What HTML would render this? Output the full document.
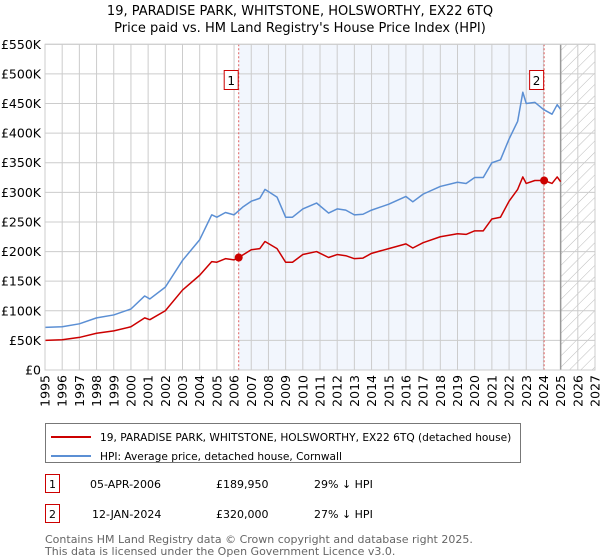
<!DOCTYPE html>
<html><head><meta charset="utf-8"><style>
body{margin:0;background:#fff;font-family:"DejaVu Sans","Liberation Sans",sans-serif;}
#wrap{position:relative;width:600px;height:560px;overflow:hidden;}
svg text{font-family:"DejaVu Sans","Liberation Sans",sans-serif;}
</style></head><body><div id="wrap">
<svg id="chart" width="600" height="560">
<text x="300" y="15" text-anchor="middle" font-size="13">19, PARADISE PARK, WHITSTONE, HOLSWORTHY, EX22 6TQ</text>
<text x="300" y="32" text-anchor="middle" font-size="13">Price paid vs. HM Land Registry's House Price Index (HPI)</text>
<g id="plot"></g>
<g>
<rect x="45.5" y="423.5" width="475" height="39" fill="#fff" stroke="#777"/>
<line x1="51" y1="437" x2="91" y2="437" stroke="#cc0000" stroke-width="2"/>
<text x="100" y="441" font-size="10.6">19, PARADISE PARK, WHITSTONE, HOLSWORTHY, EX22 6TQ (detached house)</text>
<line x1="51" y1="456" x2="91" y2="456" stroke="#5b8fd4" stroke-width="2"/>
<text x="100" y="460" font-size="10.6">HPI: Average price, detached house, Cornwall</text>
</g>
<g font-size="11">
<rect x="45.5" y="474.5" width="14" height="18" fill="#fff" stroke="#cc0000"/>
<text x="52.5" y="488" text-anchor="middle">1</text>
<text x="90" y="488">05-APR-2006</text>
<text x="216" y="488">£189,950</text>
<text x="314" y="488">29% ↓ HPI</text>
<rect x="45.5" y="504.5" width="14" height="18" fill="#fff" stroke="#cc0000"/>
<text x="52.5" y="518" text-anchor="middle">2</text>
<text x="92" y="518">12-JAN-2024</text>
<text x="216" y="518">£320,000</text>
<text x="314" y="518">27% ↓ HPI</text>
</g>
<text x="45" y="543" font-size="11" fill="#666">Contains HM Land Registry data © Crown copyright and database right 2025.</text>
<text x="45" y="555" font-size="11" fill="#666">This data is licensed under the Open Government Licence v3.0.</text>
</svg>
<script>
const hpiYears=[1995,1996,1997,1998,1999,2000,2000.8,2001.1,2002,2003,2004,2004.7,2005,2005.5,2006,2006.5,2007,2007.5,2007.8,2008.5,2009,2009.4,2010,2010.8,2011.5,2012,2012.5,2013,2013.5,2014,2015,2016,2016.4,2017,2018,2019,2019.5,2020,2020.5,2021,2021.5,2022,2022.5,2022.8,2023,2023.5,2024,2024.5,2024.8,2025];
const hpiValues=[72,73,78,88,93,103,125,120,140,185,220,262,258,266,262,275,285,290,305,292,258,258,272,282,265,272,270,262,263,270,280,293,284,297,310,317,315,325,325,350,355,390,420,469,450,452,440,432,448,440];
const ppYears=[1995,1996,1997,1998,1999,2000,2000.8,2001.1,2002,2003,2004,2004.7,2005,2005.5,2006,2006.27,2007,2007.5,2007.8,2008.5,2009,2009.4,2010,2010.8,2011.5,2012,2012.5,2013,2013.5,2014,2015,2016,2016.4,2017,2018,2019,2019.5,2020,2020.5,2021,2021.5,2022,2022.5,2022.8,2023,2023.5,2024.04,2024.5,2024.8,2025];
const ppValues=[50,51,55,62,66,73,88,85,100,135,160,183,182,188,186,190,203,205,217,205,182,182,195,200,190,195,193,188,189,197,205,213,206,215,225,230,229,235,235,255,258,285,305,326,315,320,320,315,326,318];
const saleYears=[2006.27,2024.04];
const saleValues=[189.95,320];
const saleLabels=["1","2"];
const yTicks=[0,50,100,150,200,250,300,350,400,450,500,550];
const yTickLabels=["£0","£50K","£100K","£150K","£200K","£250K","£300K","£350K","£400K","£450K","£500K","£550K"];
const xTicks=[1995,1996,1997,1998,1999,2000,2001,2002,2003,2004,2005,2006,2007,2008,2009,2010,2011,2012,2013,2014,2015,2016,2017,2018,2019,2020,2021,2022,2023,2024,2025,2026,2027];

const L=45,R=595,T=44.3,B=370;
const sx=y=>L+(y-1995)/(2027-1995)*(R-L);
const sy=v=>B-v/550*(B-T);
const NS="http://www.w3.org/2000/svg";
const g=document.getElementById('plot');
function mk(tag,attrs){const e=document.createElementNS(NS,tag);for(const k in attrs)e.setAttribute(k,attrs[k]);g.appendChild(e);return e;}
let e=mk('rect',{x:sx(saleYears[0]),y:T,width:sx(saleYears[1])-sx(saleYears[0]),height:B-T,fill:'#f2f6fd'});


const defs=document.createElementNS(NS,'defs');
defs.innerHTML='<pattern id="hatch" width="8" height="8" patternUnits="userSpaceOnUse" patternTransform="rotate(45)"><line x1="0" y1="0" x2="0" y2="8" stroke="#bbb" stroke-width="1"/></pattern>';
g.appendChild(defs);
e=mk('rect',{x:sx(2025),y:T,width:R-sx(2025),height:B-T,fill:'url(#hatch)'});


yTicks.forEach((v,i)=>{
  let l=mk('line',{x1:L,x2:R,y1:sy(v),y2:sy(v),stroke:'#cccccc','stroke-width':1});
  
  
  let t=mk('text',{x:L-4,y:sy(v)+4.5,'text-anchor':'end','font-size':12.5});
  t.textContent=yTickLabels[i];
  
  
});
xTicks.forEach(y=>{
  let l=mk('line',{x1:sx(y),x2:sx(y),y1:T,y2:B,stroke:'#cccccc','stroke-width':1});
  
  
  let t=mk('text',{x:0,y:0,'text-anchor':'end','font-size':12.5,transform:`translate(${sx(y)+4.5},${B+5}) rotate(-90)`});
  t.textContent=y;
  
  
});
e=mk('line',{x1:sx(2025),x2:sx(2025),y1:T,y2:B,stroke:'#999','stroke-width':1.5});


saleYears.forEach((y,i)=>{
  let l=mk('line',{x1:sx(y),x2:sx(y),y1:T,y2:B,stroke:'#e06060','stroke-width':1,'stroke-dasharray':'2,2'});
  
  
  let r=mk('rect',{x:sx(y)-14.5,y:70.5,width:14,height:19,fill:'#fff',stroke:'#cc0000'});
  
  
  let t=mk('text',{x:sx(y)-7.5,y:85,'text-anchor':'middle','font-size':12});
  t.textContent=saleLabels[i];
  
  
});
function line(xs,vs,col,name){
  const p=mk('polyline',{points:xs.map((x,i)=>sx(x)+','+sy(vs[i])).join(' '),fill:'none',stroke:col,'stroke-width':1.5,'stroke-linejoin':'round'});
  
  
}
line(hpiYears,hpiValues,'#5b8fd4','hpi-line');
line(ppYears,ppValues,'#cc0000','property-price-line');
saleYears.forEach((y,i)=>{
  let c=mk('circle',{cx:sx(y),cy:sy(saleValues[i]),r:4,fill:'#cc0000'});
  
  
});
e=mk('rect',{x:L,y:T,width:R-L,height:B-T,fill:'none',stroke:'#cccccc'});


</script>
</div></body></html>
